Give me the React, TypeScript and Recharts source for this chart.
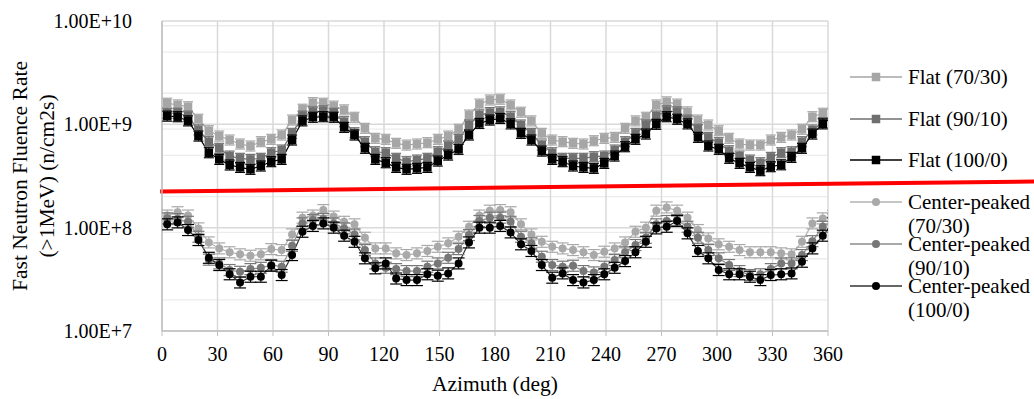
import React from 'react';
import {CartesianGrid, Legend, Line, LineChart, ReferenceLine, XAxis, YAxis} from 'recharts';

const FONT = '"Liberation Serif", "Times New Roman", Times, serif';
const TEXT = '#000';

// azimuth of each tally (deg); last one wraps past 360
const AZIMUTH = [
  2.8125, 8.4375, 14.0625, 19.6875, 25.3125, 30.9375, 36.5625, 42.1875, 47.8125, 53.4375,
  59.0625, 64.6875, 70.3125, 75.9375, 81.5625, 87.1875, 92.8125, 98.4375, 104.0625, 109.6875,
  115.3125, 120.9375, 126.5625, 132.1875, 137.8125, 143.4375, 149.0625, 154.6875, 160.3125, 165.9375,
  171.5625, 177.1875, 182.8125, 188.4375, 194.0625, 199.6875, 205.3125, 210.9375, 216.5625, 222.1875,
  227.8125, 233.4375, 239.0625, 244.6875, 250.3125, 255.9375, 261.5625, 267.1875, 272.8125, 278.4375,
  284.0625, 289.6875, 295.3125, 300.9375, 306.5625, 312.1875, 317.8125, 323.4375, 329.0625, 334.6875,
  340.3125, 345.9375, 351.5625, 357.1875, 362.8125,
];

const FLAT_70_30 = [
  1.60e9, 1.54e9, 1.48e9, 1.12e9, 8.67e8, 7.70e8, 7.05e8, 6.45e8, 6.17e8, 6.79e8,
  7.16e8, 7.88e8, 1.10e9, 1.40e9, 1.62e9, 1.60e9, 1.50e9, 1.38e9, 1.17e9, 9.15e8,
  7.32e8, 7.16e8, 6.55e8, 6.30e8, 6.45e8, 6.64e8, 7.16e8, 7.70e8, 8.95e8, 1.23e9,
  1.57e9, 1.72e9, 1.75e9, 1.54e9, 1.31e9, 1.08e9, 8.18e8, 7.05e8, 6.79e8, 6.55e8,
  6.45e8, 6.94e8, 7.32e8, 7.48e8, 9.15e8, 1.08e9, 1.17e9, 1.54e9, 1.65e9, 1.57e9,
  1.32e9, 1.10e9, 9.85e8, 8.67e8, 7.32e8, 6.45e8, 6.30e8, 6.30e8, 7.05e8, 7.48e8,
  7.88e8, 8.95e8, 1.185e9, 1.28e9, 1.60e9,
];

const FLAT_90_10 = [
  1.28e9, 1.28e9, 1.20e9, 8.81e8, 6.79e8, 5.86e8, 4.93e8, 4.69e8, 4.58e8, 4.69e8,
  5.31e8, 5.64e8, 8.18e8, 1.20e9, 1.32e9, 1.35e9, 1.28e9, 1.06e9, 8.29e8, 6.79e8,
  5.43e8, 5.31e8, 4.69e8, 4.35e8, 4.51e8, 4.69e8, 5.43e8, 6.17e8, 7.16e8, 9.85e8,
  1.23e9, 1.30e9, 1.32e9, 1.185e9, 9.85e8, 8.18e8, 6.30e8, 5.31e8, 4.69e8, 4.69e8,
  4.69e8, 4.86e8, 4.93e8, 5.64e8, 6.79e8, 8.18e8, 9.85e8, 1.20e9, 1.35e9, 1.32e9,
  1.10e9, 8.95e8, 7.48e8, 6.64e8, 5.55e8, 4.93e8, 4.51e8, 4.25e8, 4.79e8, 5.31e8,
  5.43e8, 6.79e8, 8.81e8, 1.04e9, 1.28e9,
];

const FLAT_100_0 = [
  1.20e9, 1.185e9, 1.08e9, 7.70e8, 5.31e8, 4.58e8, 4.04e8, 3.83e8, 3.67e8, 3.95e8,
  4.35e8, 4.58e8, 7.05e8, 1.08e9, 1.17e9, 1.185e9, 1.17e9, 9.35e8, 7.88e8, 5.86e8,
  4.58e8, 4.25e8, 3.83e8, 3.67e8, 3.75e8, 3.83e8, 4.41e8, 5.04e8, 5.73e8, 7.88e8,
  1.02e9, 1.10e9, 1.14e9, 1.01e9, 8.18e8, 7.05e8, 5.51e8, 4.58e8, 4.35e8, 3.95e8,
  3.83e8, 3.75e8, 4.19e8, 4.93e8, 6.07e8, 7.16e8, 8.05e8, 1.00e9, 1.185e9, 1.12e9,
  1.01e9, 7.48e8, 6.17e8, 5.73e8, 4.69e8, 4.19e8, 3.83e8, 3.56e8, 3.89e8, 4.06e8,
  4.79e8, 5.86e8, 8.05e8, 1.01e9, 1.20e9,
];

const CP_70_30 = [
  1.31e8, 1.41e8, 1.31e8, 9.84e7, 7.2e7, 6.30e7, 5.78e7, 5.52e7, 5.35e7, 5.52e7,
  6.2e7, 6.07e7, 8.6e7, 1.25e8, 1.31e8, 1.48e8, 1.28e8, 1.14e8, 1.077e8, 7.98e7,
  6.30e7, 6.30e7, 5.64e7, 5.43e7, 5.64e7, 5.95e7, 6.53e7, 7.05e7, 8.17e7, 1.02e8,
  1.31e8, 1.46e8, 1.48e8, 1.41e8, 1.077e8, 8.6e7, 7.30e7, 6.53e7, 6.3e7, 6.07e7,
  5.78e7, 5.43e7, 5.85e7, 6.30e7, 7.2e7, 9.13e7, 1.0e8, 1.46e8, 1.57e8, 1.46e8,
  1.25e8, 9.48e7, 7.87e7, 6.9e7, 6.53e7, 6.07e7, 5.78e7, 5.78e7, 5.78e7, 5.64e7,
  5.52e7, 7.30e7, 1.10e8, 1.23e8, 1.3e8,
];

const CP_90_10 = [
  1.23e8, 1.21e8, 1.14e8, 8.17e7, 4.9e7, 4.51e7, 3.89e7, 3.74e7, 3.97e7, 4.09e7,
  4.35e7, 4.19e7, 6.68e7, 1.10e8, 1.185e8, 1.21e8, 1.10e8, 9.84e7, 8.6e7, 6.07e7,
  4.51e7, 4.09e7, 3.97e7, 3.80e7, 3.80e7, 4.19e7, 4.51e7, 5.11e7, 6.2e7, 8.48e7,
  1.16e8, 1.25e8, 1.25e8, 1.14e8, 8.17e7, 7.05e7, 5.23e7, 4.35e7, 4.19e7, 4.28e7,
  3.80e7, 3.69e7, 4.19e7, 4.86e7, 5.78e7, 6.79e7, 7.98e7, 1.077e8, 1.16e8, 1.185e8,
  1.02e8, 7.98e7, 6.07e7, 5.05e7, 4.35e7, 3.80e7, 3.48e7, 3.54e7, 3.97e7, 4.51e7,
  4.51e7, 5.43e7, 7.4e7, 1.02e8, 1.2e8,
];

const CP_100_0 = [
  1.077e8, 1.125e8, 9.48e7, 7.59e7, 5.11e7, 4.35e7, 3.54e7, 2.95e7, 3.35e7, 3.35e7,
  4.28e7, 3.48e7, 5.43e7, 9.13e7, 1.04e8, 1.10e8, 1.0e8, 8.36e7, 7.30e7, 5.05e7,
  4.04e7, 4.51e7, 3.22e7, 3.11e7, 3.11e7, 3.54e7, 3.43e7, 3.61e7, 4.51e7, 7.2e7,
  1.0e8, 1.0e8, 1.04e8, 9.0e7, 6.9e7, 5.95e7, 4.35e7, 3.28e7, 3.61e7, 3.11e7,
  2.95e7, 3.11e7, 3.54e7, 4.09e7, 4.75e7, 5.78e7, 7.30e7, 9.84e7, 1.02e8, 1.16e8,
  8.81e7, 5.95e7, 5.05e7, 3.89e7, 3.54e7, 3.54e7, 3.35e7, 3.11e7, 3.48e7, 3.54e7,
  3.61e7, 4.68e7, 6.30e7, 8.36e7, 1.1e8,
];

const X_TICKS = [0, 30, 60, 90, 120, 150, 180, 210, 240, 270, 300, 330, 360];
const Y_TICKS = [1e7, 1e8, 1e9, 1e10];
const Y_MINOR = [
  2e7, 3e7, 4e7, 5e7, 6e7, 7e7, 8e7, 9e7,
  2e8, 3e8, 4e8, 5e8, 6e8, 7e8, 8e8, 9e8,
  2e9, 3e9, 4e9, 5e9, 6e9, 7e9, 8e9, 9e9,
];

// hand-drawn red separator line (azimuth, fluence) end points
const RED_LINE = [{x: -1, y: 2.24e8}, {x: 471.5, y: 2.8e8}];

type Shape = 'square' | 'circle';

interface SeriesDef {
  key: string;
  name: string;
  values: number[];
  shape: Shape;
  marker: string;
  line: string;
}

const SERIES: SeriesDef[] = [
  {key: 'f70', name: 'Flat (70/30)', values: FLAT_70_30, shape: 'square', marker: '#a6a6a6', line: '#a6a6a6'},
  {key: 'f90', name: 'Flat (90/10)', values: FLAT_90_10, shape: 'square', marker: '#6f6f6f', line: '#6f6f6f'},
  {key: 'f100', name: 'Flat (100/0)', values: FLAT_100_0, shape: 'square', marker: '#000000', line: '#000000'},
  {key: 'c70', name: 'Center-peaked (70/30)', values: CP_70_30, shape: 'circle', marker: '#a9a9a9', line: '#b3b3b3'},
  {key: 'c90', name: 'Center-peaked (90/10)', values: CP_90_10, shape: 'circle', marker: '#777777', line: '#8c8c8c'},
  {key: 'c100', name: 'Center-peaked (100/0)', values: CP_100_0, shape: 'circle', marker: '#000000', line: '#333333'},
];

const chartData = AZIMUTH.map((az, i) => {
  const row: Record<string, number> = {az};
  SERIES.forEach(s => {
    row[s.key] = s.values[i];
  });
  return row;
});

const Marker = ({cx, cy, shape, color}: {cx: number; cy: number; shape: Shape; color: string}) => {
  if (shape === 'square') {
    return <rect x={cx - 4.25} y={cy - 4.25} width={8.5} height={8.5} fill={color} />;
  }
  return <circle cx={cx} cy={cy} r={4} fill={color} />;
};

// marker with small error-bar caps, as in the spreadsheet plot
const makeDot = (shape: Shape, color: string) => (props: any) => {
  const {cx, cy, index} = props;
  if (cx == null || cy == null) return <g key={`d-${index}`} />;
  const half = shape === 'square' ? 5 : 6;
  const gap = shape === 'square' ? 5 : 5.5;
  return (
    <g key={`d-${index}`}>
      <line x1={cx} x2={cx} y1={cy - gap} y2={cy + gap} stroke={color} strokeWidth={1} />
      <line x1={cx - half} x2={cx + half} y1={cy - gap} y2={cy - gap} stroke={color} strokeWidth={1.2} />
      <line x1={cx - half} x2={cx + half} y1={cy + gap} y2={cy + gap} stroke={color} strokeWidth={1.2} />
      <Marker cx={cx} cy={cy} shape={shape} color={color} />
    </g>
  );
};

const renderLegend = () => (
  <div style={{width: 186, fontFamily: FONT, fontSize: 21, color: TEXT}}>
    {SERIES.map(s => (
      <div key={s.key} style={{height: 41.86, display: 'flex', alignItems: 'flex-start'}}>
        <svg width={58} height={24} style={{flex: 'none', display: 'block'}}>
          <line x1={2} x2={54} y1={12} y2={12} stroke={s.line} strokeWidth={1.3} />
          <Marker cx={28} cy={12} shape={s.shape} color={s.marker} />
        </svg>
        <div style={{marginLeft: 2, width: 126, lineHeight: '24px', whiteSpace: 'normal'}}>{s.name}</div>
      </div>
    ))}
  </div>
);

const titleStyle = {fontFamily: FONT, fontSize: 21.5, fill: TEXT};

const YTitle = (props: any) => {
  const {x, y, height} = props.viewBox;
  const cy = y + height / 2;
  return (
    <g>
      <text x={x + 20} y={cy} transform={`rotate(-90 ${x + 20} ${cy})`} textAnchor="middle"
            dominantBaseline="central" style={titleStyle}>
        Fast Neutron Fluence Rate
      </text>
      <text x={x + 47} y={cy} transform={`rotate(-90 ${x + 47} ${cy})`} textAnchor="middle"
            dominantBaseline="central" style={titleStyle}>
        (&gt;1MeV) (n/cm2s)
      </text>
    </g>
  );
};

const tickStyle = {fontFamily: FONT, fontSize: 20, fill: TEXT};

export default function App() {
  return (
    <div style={{position: 'absolute', left: 0, top: 0, width: 1034, height: 399, background: '#fff'}}>
      <LineChart width={1034} height={399} data={chartData} margin={{top: 21, right: 20, bottom: 0, left: 0}}>
        <CartesianGrid vertical={false} horizontalValues={Y_MINOR} stroke="#ececec" strokeWidth={1.3} />
        <CartesianGrid horizontalValues={Y_TICKS} stroke="#d9d9d9" strokeWidth={1.5} />
        <XAxis
          dataKey="az"
          type="number"
          domain={[0, 360]}
          ticks={X_TICKS}
          interval={0}
          allowDataOverflow
          height={68}
          axisLine={{stroke: '#bfbfbf', strokeWidth: 1.5}}
          tickLine={{stroke: '#bfbfbf'}}
          tickSize={5}
          tickMargin={11}
          tick={tickStyle}
          label={{value: 'Azimuth (deg)', position: 'insideBottom', offset: 8, style: titleStyle}}
        />
        <YAxis
          type="number"
          scale="log"
          domain={[1e7, 1e10]}
          ticks={Y_TICKS}
          allowDataOverflow
          width={162}
          axisLine={{stroke: '#bfbfbf', strokeWidth: 1.5}}
          tickLine={false}
          tickSize={6}
          tickMargin={24}
          tick={tickStyle}
          tickFormatter={(v: number) => v.toExponential(2).toUpperCase()}
          label={{content: YTitle}}
        />
        {SERIES.map(s => (
          <Line
            key={s.key}
            dataKey={s.key}
            name={s.name}
            type="linear"
            stroke={s.line}
            strokeWidth={1.2}
            dot={makeDot(s.shape, s.marker)}
            activeDot={false}
            isAnimationActive={false}
          />
        ))}
        <ReferenceLine segment={RED_LINE} stroke="#ff0000" strokeWidth={4} ifOverflow="visible" />
        <Legend
          layout="vertical"
          align="right"
          verticalAlign="top"
          width={186}
          wrapperStyle={{left: 848, top: 64.7, right: 'auto'}}
          content={renderLegend}
        />
      </LineChart>
    </div>
  );
}
